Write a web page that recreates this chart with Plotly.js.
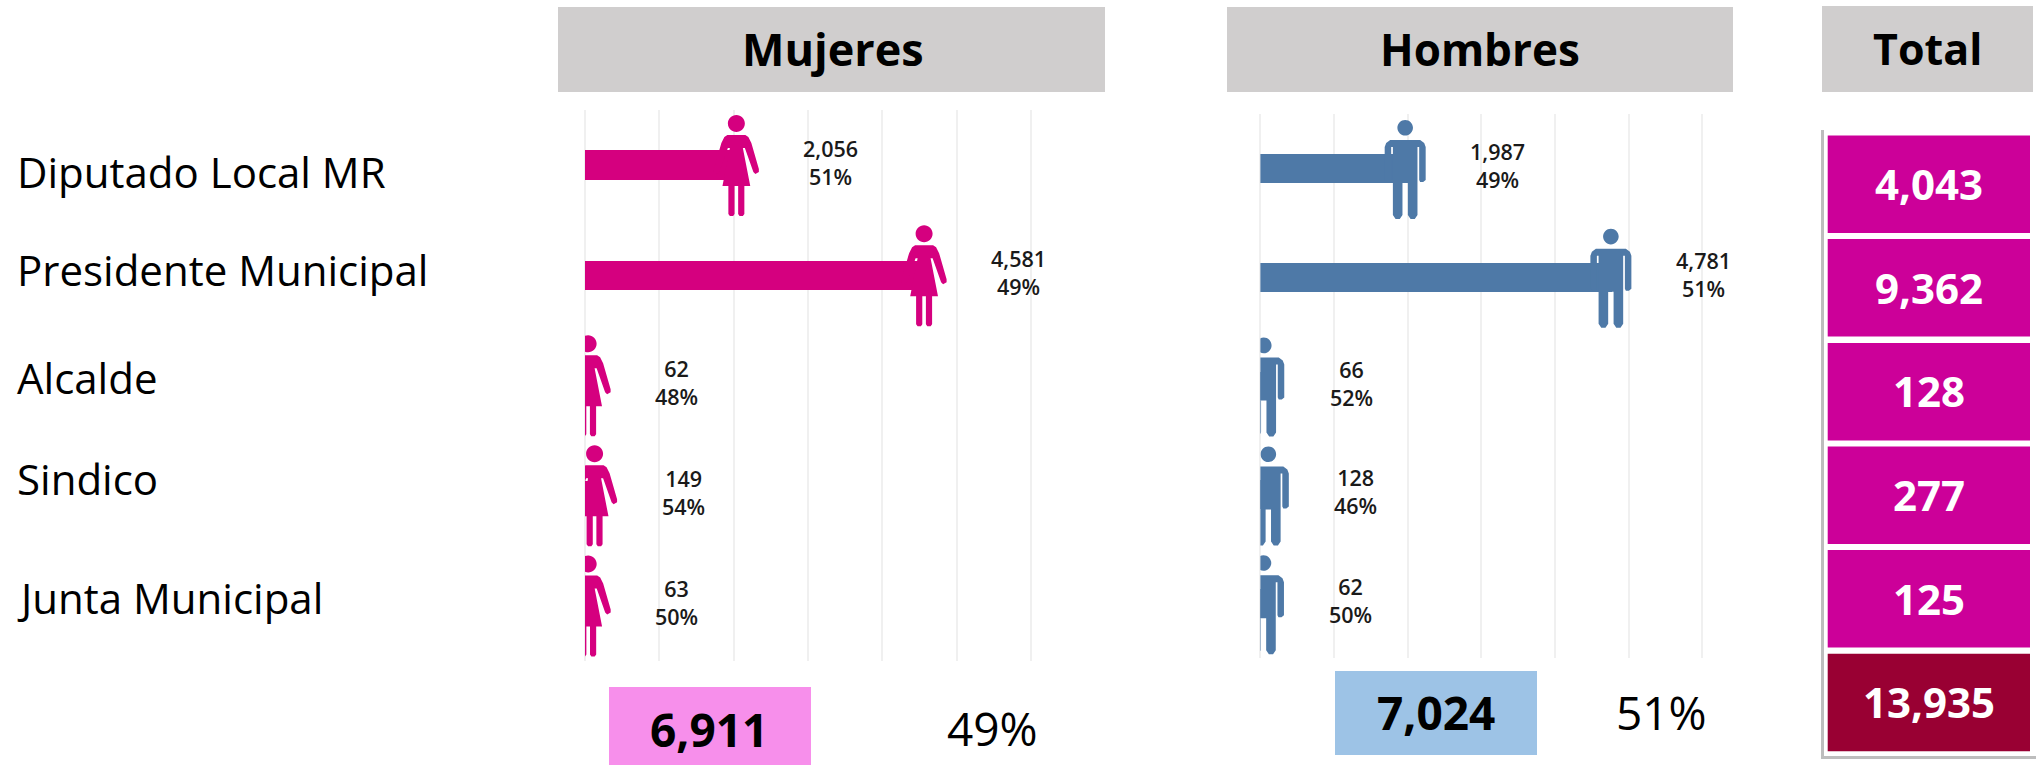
<!DOCTYPE html>
<html>
<head>
<meta charset="utf-8">
<script src="https://cdn.plot.ly/plotly-3.0.1.min.js"></script>
<style>html,body{margin:0;padding:0;background:#fff}#c{width:2036px;height:765px}</style>
</head>
<body>
<div id="c"></div>
<script>
const categories = ['Diputado Local MR','Presidente Municipal','Alcalde','Sindico','Junta Municipal'];
const mujeres = [2056,4581,62,149,63];
const hombres = [1987,4781,66,128,62];
const mujeresPct = ['51%','49%','48%','54%','50%'];
const hombresPct = ['49%','51%','52%','46%','50%'];
const totales = [4043,9362,128,277,125];
const granTotal = 13935;
const totalMujeres = 6911;
const totalHombres = 7024;
const pctMujeres = '49%';
const pctHombres = '51%';

const W = 2036, H = 765;
const FONT = '"Open Sans", "Noto Sans", sans-serif';
const fmt = v => v.toLocaleString('en-US');
const px = v => v / W;
const py = v => 1 - v / H;

const PINK = '#D5007F', BLUE = '#4E79A7', GRID = '#F0F0F0';

function headPath(cy, r, sx) {
  const k = r * 0.5523;
  const a = v => (v + sx).toFixed(2);
  return `M ${a(-r)} ${cy} C ${a(-r)} ${cy+k} ${a(-k)} ${cy+r} ${a(0)} ${cy+r} C ${a(k)} ${cy+r} ${a(r)} ${cy+k} ${a(r)} ${cy} ` +
         `C ${a(r)} ${cy-k} ${a(k)} ${cy-r} ${a(0)} ${cy-r} C ${a(-k)} ${cy-r} ${a(-r)} ${cy-k} ${a(-r)} ${cy} Z`;
}
function mirrorPoly(half, top, sx) {
  const pts = half.map(p => [p[0], top - p[1]]);
  const all = pts.concat(pts.slice().reverse().map(p => [-p[0], p[1]]));
  return 'M ' + all.map(p => (p[0] + sx).toFixed(2) + ' ' + p[1].toFixed(2)).join(' L ') + ' Z';
}
// half silhouettes: [dx from centre, dy from top of the figure]
const womanHalf = [[0,20],[9,20],[12,22],[15,28],[22.5,54],[22.5,57],[19,59],[17,57],[8.5,33],[6.5,33],[13.9,71],[8,71],[8,99],[6.5,101],[3.2,101],[1.8,99],[1.8,71],[0,71]];
const manHalf = [[0,20],[15,20],[19,23],[20.5,27],[20.5,60],[18,62],[15,62],[14,60],[14,27],[12.3,27],[12.3,95],[9.6,99],[5.4,99],[2.7,95],[2.7,63],[0,63]];
const womanPath = headPath(41.5, 8.5, -1.5) + ' ' + mirrorPoly(womanHalf, 50, -1.5);
const manPath = headPath(40.6, 7.8, -1.5) + ' ' + mirrorPoly(manHalf, 48.4, -1.5);

function figureShapes(vals, xref, yref, path, color) {
  return vals.map((v, i) => ({
    type: 'path', xref, yref, xsizemode: 'pixel', ysizemode: 'pixel',
    xanchor: v, yanchor: i, path: path, fillcolor: color, line: {width: 0}, layer: 'above',
  }));
}
function rect(x0, y0, x1, y1, color) {
  return {type: 'rect', xref: 'paper', yref: 'paper', x0: px(x0), x1: px(x1), y0: py(y1), y1: py(y0),
          fillcolor: color, line: {width: 0}, layer: 'below'};
}
function text(x, y, t, size, color, weight, anchor) {
  return {xref: 'paper', yref: 'paper', x: px(x), y: py(y), text: t, showarrow: false,
          xanchor: anchor || 'center', yanchor: 'middle',
          font: {family: FONT, size: size, color: color, weight: weight || 400}};
}

const shapes = [
  rect(558, 7, 1105, 92, '#D0CECE'),
  rect(1227, 7, 1733, 92, '#D0CECE'),
  rect(1822, 6, 2033, 92, '#D0CECE'),
  rect(1821, 130, 2036, 759, '#BDBDBD'),
  rect(1824, 129, 2036, 756, '#FFFFFF'),
  rect(609, 687, 811, 765, '#F78FEB'),
  rect(1335, 671, 1537, 755, '#9DC3E6'),
];
const cellTops = [135.6, 239, 343, 446.5, 550, 653.7];
const cellText = totales.map(fmt).concat([fmt(granTotal)]);
cellTops.forEach((t, i) => shapes.push(rect(1827.7, t, 2030, t + 97.5, i === 5 ? '#990033' : '#CC0099')));
shapes.push(...figureShapes(mujeres, 'x', 'y', womanPath, PINK));
shapes.push(...figureShapes(hombres, 'x2', 'y2', manPath, BLUE));

const annotations = [
  text(833, 49, 'Mujeres', 45, '#000', 700),
  text(1480, 49, 'Hombres', 44, '#000', 700),
  text(1927, 49, 'Total', 43, '#000', 700),
  text(709, 729, fmt(totalMujeres), 46, '#000', 700),
  text(992.9, 728, pctMujeres, 46, '#000', 400),
  text(1436, 712, fmt(totalHombres), 46, '#000', 700),
  text(1661.8, 712, pctHombres, 46, '#000', 400),
];
const rowLabelY = [171, 269, 377, 478, 597];
categories.forEach((c, i) => annotations.push(text(15, rowLabelY[i], c, 42, '#000', 400, 'left')));
cellText.forEach((t, i) => annotations.push(text(1929, cellTops[i] + 48, t, 42, '#fff', 700)));

function valueLabels(vals, pcts, xref, yref, big, small) {
  return vals.map((v, i) => ({
    xref, yref, x: v, y: i, xshift: v > 1000 ? big : small, yshift: 3,
    text: fmt(v) + '<br>' + pcts[i], showarrow: false,
    xanchor: 'center', yanchor: 'middle',
    font: {family: FONT, size: 21.5, color: '#1a1a1a', weight: 600},
  }));
}
annotations.push(...valueLabels(mujeres, mujeresPct, 'x', 'y', 92.5, 87));
annotations.push(...valueLabels(hombres, hombresPct, 'x2', 'y2', 91, 86));

const xBase = {range: [0, 6100], tick0: 0, dtick: 1000, showgrid: true, gridcolor: GRID, gridwidth: 2,
               zeroline: true, zerolinecolor: GRID, zerolinewidth: 2, showticklabels: false, ticks: '', showline: false, fixedrange: true};
const yBase = {type: 'category', categoryorder: 'array', categoryarray: categories, range: [4.5, -0.5],
               showgrid: false, zeroline: false, showticklabels: false, ticks: '', showline: false, fixedrange: true};

const data = [
  {type: 'bar', orientation: 'h', y: categories, x: mujeres, width: 0.265, marker: {color: PINK, line: {width: 0}}, xaxis: 'x', yaxis: 'y', hoverinfo: 'x+y', name: 'Mujeres'},
  {type: 'bar', orientation: 'h', y: categories, x: hombres, width: 0.265, marker: {color: BLUE, line: {width: 0}}, xaxis: 'x2', yaxis: 'y2', hoverinfo: 'x+y', name: 'Hombres'},
];
const layout = {
  width: W, height: H, margin: {l: 0, r: 0, t: 0, b: 0}, autosize: false,
  paper_bgcolor: '#fff', plot_bgcolor: 'rgba(0,0,0,0)', showlegend: false,
  bargap: 0,
  xaxis: Object.assign({}, xBase, {domain: [px(585), px(585 + 6100 * 0.07435)], anchor: 'y'}),
  yaxis: Object.assign({}, yBase, {domain: [py(660.5), py(110)], anchor: 'x'}),
  xaxis2: Object.assign({}, xBase, {domain: [px(1260.4), px(1260.4 + 6100 * 0.07362)], anchor: 'y2'}),
  yaxis2: Object.assign({}, yBase, {domain: [py(658), py(114)], anchor: 'x2'}),
  shapes, annotations,
};
Plotly.newPlot('c', data, layout, {displayModeBar: false, responsive: false});
</script>
</body>
</html>
